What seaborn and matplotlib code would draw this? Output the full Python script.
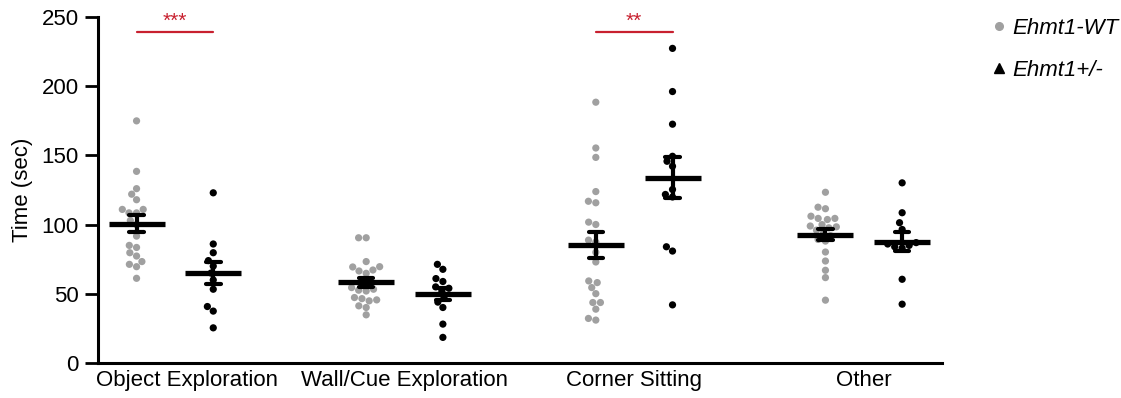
import numpy as np
import pandas as pd
import matplotlib
matplotlib.use("Agg")
import matplotlib.pyplot as plt
import matplotlib.transforms as mtransforms
from matplotlib.lines import Line2D
import seaborn as sns

# ---------------- data ----------------
categories = ["Object Exploration", "Wall/Cue Exploration", "Corner Sitting", "Other"]
genotypes = ["Ehmt1-WT", "Ehmt1+/-"]

wt_object = [175, 138.5, 126, 122, 118, 111, 111, 108.5, 108.5, 103, 100, 91.7,
             85, 83.5, 79.7, 77.3, 73.3, 71.3, 69.6, 61.2]
het_object = [123, 86, 79.7, 74, 70, 65, 60, 53.3, 40.8, 37.5, 25.4]

wt_wall = [90.5, 90.5, 73.3, 69.6, 69.4, 67.2, 66.5, 64.8, 60, 57, 54.5, 53.3,
           52.6, 52, 47.3, 46.5, 45.6, 44.9, 41.3, 40.1, 34.8]
het_wall = [71.3, 67.7, 61, 58.9, 55, 54, 52, 47, 44, 40.1, 28.1, 18.5]

wt_corner = [188.5, 155.4, 148.6, 123.9, 116.9, 115.8, 101.8, 100.1, 88.8, 87.4,
             80, 73, 59.3, 58.1, 54.5, 50.1, 43.7, 43.7, 38.9, 32.2, 31]
het_corner = [227.4, 196.2, 172.6, 149.4, 145.8, 142.2, 125.4, 121.8, 120, 84,
              80.9, 42]

wt_other = [123.4, 112.6, 111.5, 106.1, 104.5, 104.5, 103.7, 100, 99, 98.4, 97.7,
            96, 94, 92, 89.3, 88.1, 80.2, 73.7, 67, 61.7, 45.4]
het_other = [130.2, 108.6, 101.4, 96.5, 87, 86, 85, 84, 83, 60.5, 42.5]

significance = {"Object Exploration": "***", "Corner Sitting": "**"}

# ---------------- styling ----------------
GENO_OFFSET = {"Ehmt1-WT": -0.167, "Ehmt1+/-": 0.167}
PALETTE = {"Ehmt1-WT": "#a0a0a0", "Ehmt1+/-": "#000000"}
SIG_COLOR = "#c8202f"
FS = 16

groups = {
    ("Object Exploration", "Ehmt1-WT"): wt_object,
    ("Object Exploration", "Ehmt1+/-"): het_object,
    ("Wall/Cue Exploration", "Ehmt1-WT"): wt_wall,
    ("Wall/Cue Exploration", "Ehmt1+/-"): het_wall,
    ("Corner Sitting", "Ehmt1-WT"): wt_corner,
    ("Corner Sitting", "Ehmt1+/-"): het_corner,
    ("Other", "Ehmt1-WT"): wt_other,
    ("Other", "Ehmt1+/-"): het_other,
}
rows = []
for (cat, geno), vals in groups.items():
    for v in vals:
        rows.append({"category": cat, "genotype": geno, "value": v})
df = pd.DataFrame(rows)
df["pos"] = df["category"].map({c: i for i, c in enumerate(categories)}) + \
    df["genotype"].map(GENO_OFFSET)

sns.set_style("ticks")
plt.rcParams["font.family"] = ["Liberation Sans", "DejaVu Sans"]
plt.rcParams.update({
    "text.color": "black", "axes.labelcolor": "black",
    "xtick.color": "black", "ytick.color": "black",
    "axes.edgecolor": "black",
})

fig = plt.figure(figsize=(11.21, 3.98), dpi=100)
ax = fig.add_axes([0.0874, 0.088, 0.7526, 0.869])

sns.swarmplot(data=df, x="pos", y="value", hue="genotype", palette=PALETTE,
              native_scale=True, size=5.2, linewidth=0, legend=False, ax=ax,
              zorder=2)

sns.pointplot(data=df, x="pos", y="value", native_scale=True, errorbar="se",
              color="black", linestyle="none", marker="_", markersize=40,
              markeredgewidth=3.8, capsize=0.19,
              err_kws={"linewidth": 3.0}, ax=ax, zorder=5)

ax.set_xlim(-0.335, 3.339)
ax.set_ylim(0, 250)
ax.set_yticks([0, 50, 100, 150, 200, 250])
ax.set_xticks(range(len(categories)))
ax.set_xticklabels(categories, fontsize=FS)
ax.tick_params(axis="y", labelsize=FS, length=9.5, width=2.0, pad=4.5)
ax.tick_params(axis="x", length=0, pad=5)
ax.set_xlabel("")
ax.set_ylabel("Time (sec)", fontsize=FS, labelpad=6)
for side in ["left", "bottom"]:
    ax.spines[side].set_linewidth(2.2)
    ax.spines[side].set_color("black")
sns.despine(ax=ax)

# first category label sits slightly right of its group
lbl = ax.get_xticklabels()[0]
lbl.set_transform(lbl.get_transform() +
                  mtransforms.ScaledTranslation(0.12, 0, fig.dpi_scale_trans))

# significance bars
for cat, stars in significance.items():
    i = categories.index(cat)
    x0 = i + GENO_OFFSET["Ehmt1-WT"]
    x1 = i + GENO_OFFSET["Ehmt1+/-"]
    ax.plot([x0, x1], [239.5, 239.5], color=SIG_COLOR, lw=1.6, clip_on=False)
    ax.text((x0 + x1) / 2, 240.0, stars, ha="center", va="bottom",
            color=SIG_COLOR, fontsize=15, clip_on=False)

# legend
handles = [
    Line2D([], [], marker="o", color=PALETTE["Ehmt1-WT"], linestyle="none",
           markersize=5.5),
    Line2D([], [], marker="^", color="black", linestyle="none", markersize=6.5),
]
fig.legend(handles, genotypes, loc="upper left",
           bbox_to_anchor=(0.884, 0.955), bbox_transform=fig.transFigure,
           frameon=False, prop={"style": "italic", "size": FS},
           handlelength=0.7, handletextpad=0.25, labelspacing=0.95,
           borderpad=0, borderaxespad=0)

fig.savefig("out.png", dpi=100)
